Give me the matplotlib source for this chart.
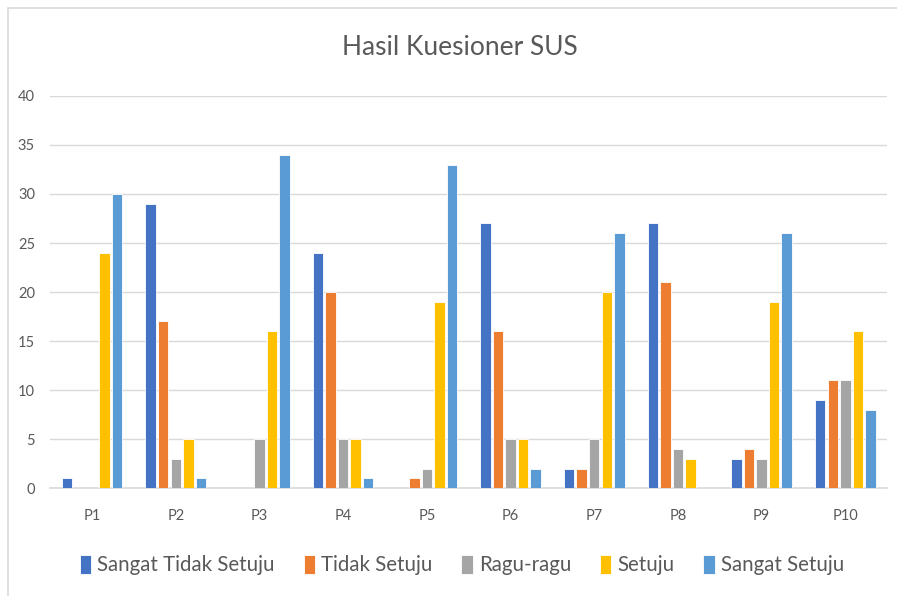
import matplotlib.pyplot as plt
import numpy as np
from matplotlib.patches import Rectangle

plt.rcParams['font.family'] = ['Lato', 'DejaVu Sans']

categories = ["P1", "P2", "P3", "P4", "P5", "P6", "P7", "P8", "P9", "P10"]
series_names = ["Sangat Tidak Setuju", "Tidak Setuju", "Ragu-ragu", "Setuju", "Sangat Setuju"]
sangat_tidak_setuju = [1, 29, 0, 24, 0, 27, 2, 27, 3, 9]
tidak_setuju = [0, 17, 0, 20, 1, 16, 2, 21, 4, 11]
ragu_ragu = [0, 3, 5, 5, 2, 5, 5, 4, 3, 11]
setuju = [24, 5, 16, 5, 19, 5, 20, 3, 19, 16]
sangat_setuju = [30, 1, 34, 1, 33, 2, 26, 0, 26, 8]
colors = ["#4472C4", "#ED7D31", "#A5A5A5", "#FFC000", "#5B9BD5"]

series = [sangat_tidak_setuju, tidak_setuju, ragu_ragu, setuju, sangat_setuju]

fig = plt.figure(figsize=(8.97, 5.96), dpi=100)
ax = fig.add_axes([0.056, 0.181, 0.933, 0.658])

x = np.arange(len(categories))
step = 0.15
width = 0.125
for i, (vals, name, c) in enumerate(zip(series, series_names, colors)):
    ax.bar(x + (i - 2) * step, vals, width, color=c, label=name,
           edgecolor='white', linewidth=0.6, zorder=3)

ax.set_xlim(-0.5, len(categories) - 0.5)
ax.set_ylim(0, 40)
ax.set_yticks(range(0, 41, 5))
ax.set_xticks(x)
ax.set_xticklabels(categories)
ax.grid(axis='y', color='#d9d9d9', linewidth=1, zorder=0)
for s in ['top', 'right', 'left']:
    ax.spines[s].set_visible(False)
ax.spines['bottom'].set_color('#d9d9d9')
ax.spines['bottom'].set_linewidth(1.2)
ax.tick_params(axis='both', length=0, colors='#595959', labelsize=10.5)
ax.tick_params(axis='x', pad=15)
ax.tick_params(axis='y', pad=11)

fig.text(0.513, 0.921, "Hasil Kuesioner SUS", ha='center', va='center',
         fontsize=19, color='#595959')

fig.legend(loc='center', bbox_to_anchor=(0.515, 0.052), ncol=5, frameon=False,
           fontsize=14.8, handlelength=0.55, handleheight=1.1, handletextpad=0.3,
           columnspacing=1.4, labelcolor='#595959')

fig.patches.append(Rectangle((0.009, -0.01), 1.1, 0.997, transform=fig.transFigure,
                             fill=False, edgecolor='#d9d9d9', linewidth=1.2))

fig.savefig("out.png", dpi=100)
